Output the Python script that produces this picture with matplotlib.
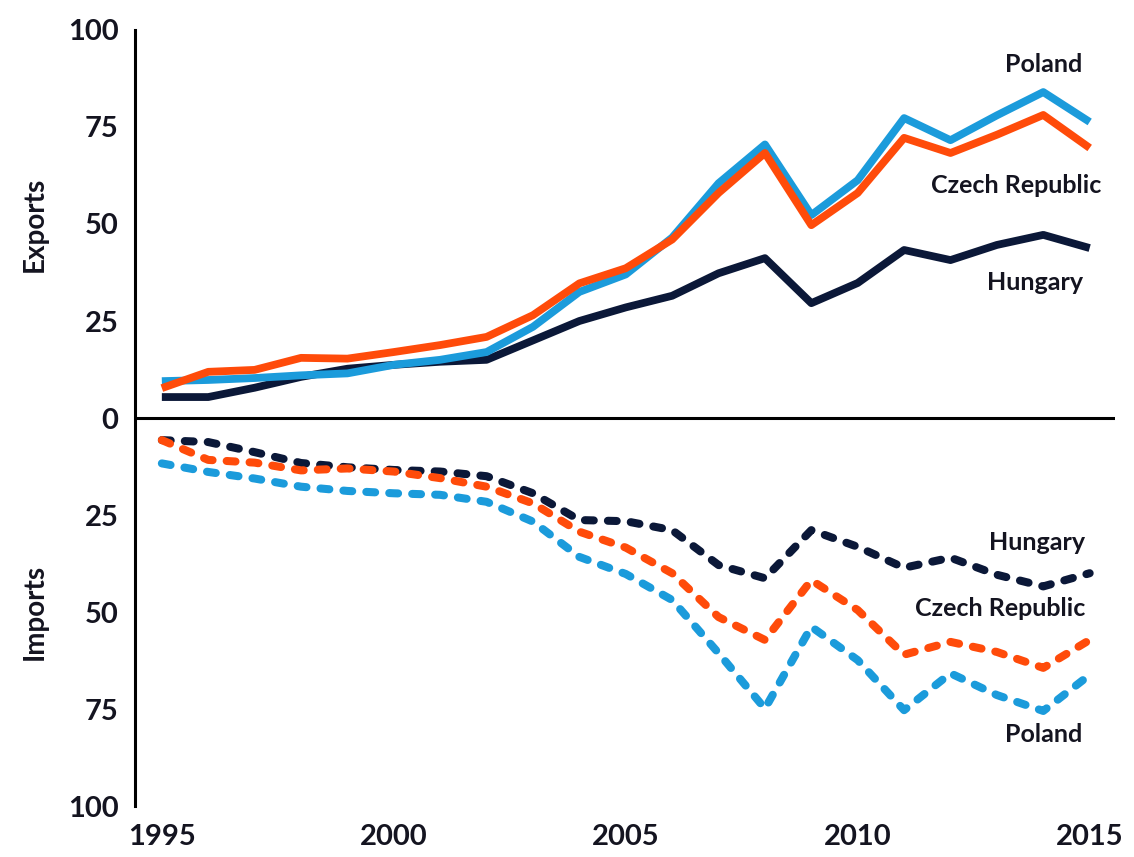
import matplotlib
matplotlib.use("Agg")
import matplotlib.pyplot as plt
import matplotlib.transforms as mtransforms

plt.rcParams['font.family'] = ['Lato', 'DejaVu Sans']

years = list(range(1995, 2016))

# exports (share, positive side)
exp_poland = [9.5, 9.8, 10.3, 11, 11.5, 13.7, 15, 17, 23.5, 32.5, 37, 46.5, 60.5, 70.5,
              52.3, 61.3, 77.3, 71.6, 78, 84, 76.3]
exp_czech = [7.7, 11.9, 12.4, 15.5, 15.3, 17, 18.8, 20.9, 26.5, 34.7, 38.6, 46, 58, 68.3,
             49.7, 58, 72.2, 68.3, 73, 78.1, 69.6]
exp_hungary = [5.4, 5.4, 7.8, 10.6, 12.7, 13.7, 14.5, 15, 20, 25, 28.5, 31.5, 37.3, 41.2,
               29.6, 34.8, 43.3, 40.7, 44.6, 47.2, 43.8]

# imports (drawn below zero)
imp_poland = [11.7, 13.9, 15.6, 17.7, 18.8, 19.4, 19.8, 21.6, 26.7, 35.8, 40.2, 46.9, 60.6,
              74.9, 53.8, 62.4, 75.3, 65.8, 71.4, 75.5, 66.2]
imp_czech = [5.7, 10.8, 11.5, 13.5, 13, 13.8, 15.5, 17.7, 22, 29.3, 33.4, 40, 51.3, 57.2,
             41.8, 49.5, 61, 57.7, 60.3, 64.4, 57.2]
imp_hungary = [5.7, 6.2, 8.8, 11.6, 12.7, 13.4, 13.8, 15, 19.4, 26.3, 26.6, 28.9, 37.9, 41.3,
               28.9, 33.2, 38.6, 36, 40.4, 43.4, 40]

yticks = [-100, -75, -50, -25, 0, 25, 50, 75, 100]
ytick_labels = ['100', '75', '50', '25', '0', '25', '50', '75', '100']
xticks = [1995, 2000, 2005, 2010, 2015]

c_pl = '#1b9bdb'
c_cz = '#ff4b0a'
c_hu = '#0b1838'
txt = '#141420'

fig = plt.figure(figsize=(11.34, 8.57), dpi=100)
ax = fig.add_axes([0.119, 0.0595, 0.864, 0.9055])

series = [(exp_hungary, imp_hungary, c_hu), (exp_poland, imp_poland, c_pl),
          (exp_czech, imp_czech, c_cz)]
for exp, imp, col in series:
    ax.plot(years, exp, color=col, lw=5.6, solid_joinstyle='round', solid_capstyle='butt')
    ax.plot(years, [-v for v in imp], color=col, lw=5.8, dashes=(1.1, 1.75),
            dash_capstyle='round', dash_joinstyle='round')

ax.axhline(0, color='black', lw=2.2, zorder=5)

ax.set_xlim(1994.42, 2015.54)
ax.set_ylim(-100, 100)
ax.set_yticks(yticks)
ax.set_yticklabels(ytick_labels)
ax.set_xticks(xticks)
ax.tick_params(axis='both', length=0, labelsize=21, labelcolor=txt)
ax.tick_params(axis='y', pad=12)
ax.tick_params(axis='x', pad=13)
for lab in ax.get_xticklabels() + ax.get_yticklabels():
    lab.set_fontweight('bold')

for s in ['top', 'right', 'bottom']:
    ax.spines[s].set_visible(False)
ax.spines['left'].set_linewidth(2.2)
ax.spines['left'].set_color('black')

trans = mtransforms.blended_transform_factory(ax.transAxes, ax.transData)
ax.text(-0.102, 50, 'Exports', rotation=90, ha='center', va='center', transform=trans,
        fontsize=20, fontweight='bold', color=txt)
ax.text(-0.102, -50, 'Imports', rotation=90, ha='center', va='center', transform=trans,
        fontsize=20, fontweight='bold', color=txt)

lab_kw = dict(ha='right', va='center', fontsize=18, fontweight='bold', color=txt)
ax.text(2014.85, 91.2, 'Poland', **lab_kw)
ax.text(2015.26, 60, 'Czech Republic', **lab_kw)
ax.text(2014.85, 35, 'Hungary', **lab_kw)
ax.text(2014.9, -32, 'Hungary', **lab_kw)
ax.text(2014.9, -49, 'Czech Republic', **lab_kw)
ax.text(2014.85, -81.5, 'Poland', **lab_kw)

fig.savefig('out.png', dpi=100)
